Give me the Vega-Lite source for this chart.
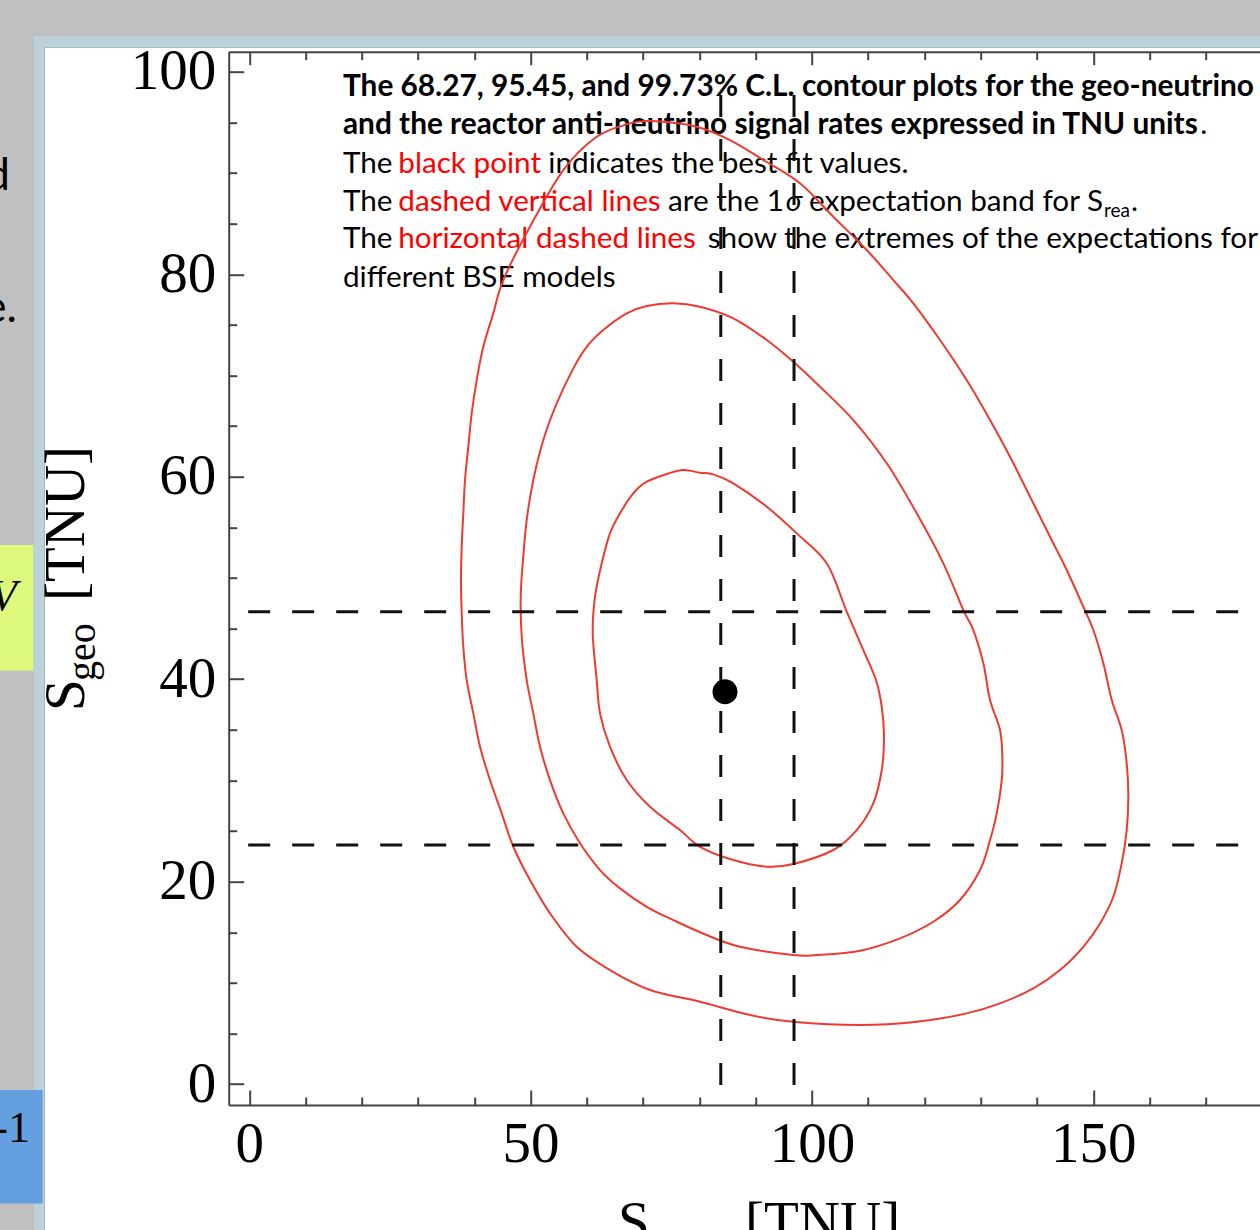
{
  "$schema": "https://vega.github.io/schema/vega-lite/v6.json",
  "width": 1031.3,
  "height": 1053.3,
  "autosize": {"type": "none"},
  "padding": {"left": 228.7, "top": 51.7, "right": 0, "bottom": 125},
  "background": "#c0c0c0",
  "config": {
    "view": {"stroke": null},
    "axis": {"grid": false, "domainColor": "#444444", "domainWidth": 2, "tickColor": "#444444", "tickWidth": 2, "labelFont": "Liberation Serif", "labelFontSize": 57, "labelColor": "#000000", "labelFlush": false, "labelOverlap": false}
  },
  "resolve": {"axis": {"x": "independent", "y": "independent"}},
  "datasets": {
    "frame": [{"x1": -38.27, "x2": 186.7, "y1": 103.53, "y2": -17.39}],
    "panel": [{"x1": -36.4, "x2": 186.7, "y1": 102.39, "y2": -17.39}],
    "greenbox": [{"x1": -45.2, "x2": -38.39, "y1": 53.25, "y2": 40.83}],
    "bluebox": [{"x1": -45.2, "x2": -36.72, "y1": -0.59, "y2": -11.79}],
    "frag_sans": [{"t": "d", "x": -42.53, "y": 88.31}, {"t": "e.", "x": -41.29, "y": 75.27}],
    "frag_italic": [{"t": "V", "x": -41.29, "y": 46.82}],
    "frag_serif": [{"t": "-1", "x": -38.98, "y": -5.73}],
    "ann_bold": [
      {"t": "The 68.27, 95.45, and 99.73% C.L. contour plots for the geo-neutrino", "x": 16.65, "y": 97.65},
      {"t": "and the reactor anti-neutrino signal rates expressed in TNU units", "x": 16.65, "y": 93.85}
    ],
    "ann_plain": [
      {"t": ".", "x": 169.0, "y": 93.85},
      {"t": "The", "x": 16.65, "y": 89.96},
      {"t": "indicates the best fit values.", "x": 53.15, "y": 89.96},
      {"t": "The", "x": 16.65, "y": 86.27},
      {"t": "are the 1", "x": 74.42, "y": 86.27},
      {"t": ".", "x": 156.72, "y": 86.27},
      {"t": "The", "x": 16.65, "y": 82.55},
      {"t": "show the extremes of the expectations for", "x": 81.48, "y": 82.55},
      {"t": "different BSE models", "x": 16.65, "y": 78.76}
    ],
    "ann_plain_end": [
      {"t": "expectation band for S", "x": 151.74, "y": 86.27}
    ],
    "ann_red": [
      {"t": "black point", "x": 26.48, "y": 89.96},
      {"t": "dashed vertical lines", "x": 26.48, "y": 86.27},
      {"t": "horizontal dashed lines", "x": 26.48, "y": 82.55}
    ],
    "ann_italic": [{"t": "σ", "x": 95.35, "y": 86.27}],
    "ann_sub": [{"t": "rea", "x": 151.92, "y": 85.68}],
    "ytitle_main": [{"t": "S", "x": -29.38, "y": 36.85}, {"t": "[TNU]", "x": -29.38, "y": 47.71}],
    "ytitle_sub": [{"t": "geo", "x": -27.43, "y": 39.81}],
    "xtitle_main": [{"t": "S", "x": 65.54, "y": -15.51}, {"t": "[TNU]", "x": 88.11, "y": -15.51}],
    "xtitle_sub": [{"t": "rea", "x": 70.87, "y": -16.99}],
    "contours": [
      {"cl": "68.27%", "i": 1, "x": 77.14, "y": 60.65},
      {"cl": "68.27%", "i": 2, "x": 80.11, "y": 60.39},
      {"cl": "68.27%", "i": 3, "x": 82.47, "y": 60.23},
      {"cl": "68.27%", "i": 4, "x": 86.03, "y": 59.34},
      {"cl": "68.27%", "i": 5, "x": 91.97, "y": 57.03},
      {"cl": "68.27%", "i": 6, "x": 97.3, "y": 54.4},
      {"cl": "68.27%", "i": 7, "x": 102.63, "y": 51.44},
      {"cl": "68.27%", "i": 8, "x": 106.19, "y": 46.66},
      {"cl": "68.27%", "i": 9, "x": 109.14, "y": 42.87},
      {"cl": "68.27%", "i": 10, "x": 111.39, "y": 39.91},
      {"cl": "68.27%", "i": 11, "x": 112.41, "y": 37.27},
      {"cl": "68.27%", "i": 12, "x": 112.81, "y": 34.31},
      {"cl": "68.27%", "i": 13, "x": 112.41, "y": 31.02},
      {"cl": "68.27%", "i": 14, "x": 110.91, "y": 27.73},
      {"cl": "68.27%", "i": 15, "x": 107.96, "y": 25.09},
      {"cl": "68.27%", "i": 16, "x": 103.8, "y": 23.12},
      {"cl": "68.27%", "i": 17, "x": 96.69, "y": 21.73},
      {"cl": "68.27%", "i": 18, "x": 91.97, "y": 21.47},
      {"cl": "68.27%", "i": 19, "x": 86.03, "y": 22.13},
      {"cl": "68.27%", "i": 20, "x": 80.11, "y": 23.44},
      {"cl": "68.27%", "i": 21, "x": 76.55, "y": 25.09},
      {"cl": "68.27%", "i": 22, "x": 71.22, "y": 27.39},
      {"cl": "68.27%", "i": 23, "x": 67.08, "y": 30.03},
      {"cl": "68.27%", "i": 24, "x": 64.11, "y": 33.32},
      {"cl": "68.27%", "i": 25, "x": 62.34, "y": 36.62},
      {"cl": "68.27%", "i": 26, "x": 61.75, "y": 39.91},
      {"cl": "68.27%", "i": 27, "x": 61.04, "y": 44.52},
      {"cl": "68.27%", "i": 28, "x": 61.45, "y": 48.14},
      {"cl": "68.27%", "i": 29, "x": 62.64, "y": 51.44},
      {"cl": "68.27%", "i": 30, "x": 64.11, "y": 54.4},
      {"cl": "68.27%", "i": 31, "x": 65.89, "y": 56.38},
      {"cl": "68.27%", "i": 32, "x": 68.25, "y": 58.35},
      {"cl": "68.27%", "i": 33, "x": 70.64, "y": 59.5},
      {"cl": "68.27%", "i": 34, "x": 74.19, "y": 60.26},
      {"cl": "95.45%", "i": 1, "x": 75.36, "y": 77.12},
      {"cl": "95.45%", "i": 2, "x": 80.11, "y": 76.79},
      {"cl": "95.45%", "i": 3, "x": 86.03, "y": 75.64},
      {"cl": "95.45%", "i": 4, "x": 91.97, "y": 73.5},
      {"cl": "95.45%", "i": 5, "x": 96.69, "y": 71.35},
      {"cl": "95.45%", "i": 6, "x": 101.44, "y": 68.88},
      {"cl": "95.45%", "i": 7, "x": 107.36, "y": 65.59},
      {"cl": "95.45%", "i": 8, "x": 113.3, "y": 61.32},
      {"cl": "95.45%", "i": 9, "x": 118.63, "y": 56.38},
      {"cl": "95.45%", "i": 10, "x": 123.36, "y": 51.44},
      {"cl": "95.45%", "i": 11, "x": 126.91, "y": 46.82},
      {"cl": "95.45%", "i": 12, "x": 128.69, "y": 44.85},
      {"cl": "95.45%", "i": 13, "x": 130.47, "y": 41.56},
      {"cl": "95.45%", "i": 14, "x": 131.66, "y": 37.93},
      {"cl": "95.45%", "i": 15, "x": 133.43, "y": 34.97},
      {"cl": "95.45%", "i": 16, "x": 133.84, "y": 32.33},
      {"cl": "95.45%", "i": 17, "x": 133.74, "y": 30.03},
      {"cl": "95.45%", "i": 18, "x": 132.85, "y": 26.74},
      {"cl": "95.45%", "i": 19, "x": 131.66, "y": 24.1},
      {"cl": "95.45%", "i": 20, "x": 129.88, "y": 21.14},
      {"cl": "95.45%", "i": 21, "x": 126.32, "y": 18.18},
      {"cl": "95.45%", "i": 22, "x": 121.58, "y": 16.03},
      {"cl": "95.45%", "i": 23, "x": 115.66, "y": 14.39},
      {"cl": "95.45%", "i": 24, "x": 108.55, "y": 13.17},
      {"cl": "95.45%", "i": 25, "x": 100.85, "y": 12.74},
      {"cl": "95.45%", "i": 26, "x": 96.69, "y": 12.74},
      {"cl": "95.45%", "i": 27, "x": 87.22, "y": 13.56},
      {"cl": "95.45%", "i": 28, "x": 81.3, "y": 14.72},
      {"cl": "95.45%", "i": 29, "x": 75.36, "y": 16.2},
      {"cl": "95.45%", "i": 30, "x": 70.64, "y": 17.51},
      {"cl": "95.45%", "i": 31, "x": 65.89, "y": 19.33},
      {"cl": "95.45%", "i": 32, "x": 62.34, "y": 21.14},
      {"cl": "95.45%", "i": 33, "x": 58.78, "y": 23.78},
      {"cl": "95.45%", "i": 34, "x": 55.81, "y": 26.74},
      {"cl": "95.45%", "i": 35, "x": 53.45, "y": 30.03},
      {"cl": "95.45%", "i": 36, "x": 51.67, "y": 33.32},
      {"cl": "95.45%", "i": 37, "x": 50.48, "y": 36.62},
      {"cl": "95.45%", "i": 38, "x": 49.31, "y": 39.91},
      {"cl": "95.45%", "i": 39, "x": 48.42, "y": 44.19},
      {"cl": "95.45%", "i": 40, "x": 48.24, "y": 48.14},
      {"cl": "95.45%", "i": 41, "x": 48.6, "y": 51.44},
      {"cl": "95.45%", "i": 42, "x": 49.31, "y": 55.72},
      {"cl": "95.45%", "i": 43, "x": 50.48, "y": 59.67},
      {"cl": "95.45%", "i": 44, "x": 52.26, "y": 63.62},
      {"cl": "95.45%", "i": 45, "x": 54.64, "y": 67.24},
      {"cl": "95.45%", "i": 46, "x": 57.59, "y": 70.7},
      {"cl": "95.45%", "i": 47, "x": 59.97, "y": 72.83},
      {"cl": "95.45%", "i": 48, "x": 62.92, "y": 74.48},
      {"cl": "95.45%", "i": 49, "x": 67.08, "y": 76.13},
      {"cl": "95.45%", "i": 50, "x": 70.64, "y": 76.85},
      {"cl": "99.73%", "i": 1, "x": 70.64, "y": 95.13},
      {"cl": "99.73%", "i": 2, "x": 73.59, "y": 95.06},
      {"cl": "99.73%", "i": 3, "x": 79.52, "y": 94.57},
      {"cl": "99.73%", "i": 4, "x": 85.44, "y": 93.25},
      {"cl": "99.73%", "i": 5, "x": 91.36, "y": 91.28},
      {"cl": "99.73%", "i": 6, "x": 97.88, "y": 88.98},
      {"cl": "99.73%", "i": 7, "x": 103.8, "y": 85.68},
      {"cl": "99.73%", "i": 8, "x": 109.74, "y": 82.39},
      {"cl": "99.73%", "i": 9, "x": 114.47, "y": 79.42},
      {"cl": "99.73%", "i": 10, "x": 118.02, "y": 77.12},
      {"cl": "99.73%", "i": 11, "x": 122.77, "y": 73.5},
      {"cl": "99.73%", "i": 12, "x": 127.51, "y": 69.54},
      {"cl": "99.73%", "i": 13, "x": 131.66, "y": 65.59},
      {"cl": "99.73%", "i": 14, "x": 135.21, "y": 61.97},
      {"cl": "99.73%", "i": 15, "x": 138.77, "y": 58.02},
      {"cl": "99.73%", "i": 16, "x": 142.32, "y": 54.07},
      {"cl": "99.73%", "i": 17, "x": 145.29, "y": 50.78},
      {"cl": "99.73%", "i": 18, "x": 148.24, "y": 47.15},
      {"cl": "99.73%", "i": 19, "x": 150.02, "y": 44.85},
      {"cl": "99.73%", "i": 20, "x": 151.8, "y": 41.56},
      {"cl": "99.73%", "i": 21, "x": 153.29, "y": 37.93},
      {"cl": "99.73%", "i": 22, "x": 155.06, "y": 34.97},
      {"cl": "99.73%", "i": 23, "x": 155.95, "y": 31.68},
      {"cl": "99.73%", "i": 24, "x": 156.24, "y": 28.38},
      {"cl": "99.73%", "i": 25, "x": 155.95, "y": 25.09},
      {"cl": "99.73%", "i": 26, "x": 155.06, "y": 21.8},
      {"cl": "99.73%", "i": 27, "x": 153.57, "y": 18.5},
      {"cl": "99.73%", "i": 28, "x": 151.21, "y": 15.87},
      {"cl": "99.73%", "i": 29, "x": 148.24, "y": 13.56},
      {"cl": "99.73%", "i": 30, "x": 144.1, "y": 11.26},
      {"cl": "99.73%", "i": 31, "x": 139.35, "y": 9.45},
      {"cl": "99.73%", "i": 32, "x": 133.43, "y": 7.97},
      {"cl": "99.73%", "i": 33, "x": 127.51, "y": 6.98},
      {"cl": "99.73%", "i": 34, "x": 118.63, "y": 6.15},
      {"cl": "99.73%", "i": 35, "x": 108.55, "y": 5.83},
      {"cl": "99.73%", "i": 36, "x": 96.69, "y": 6.15},
      {"cl": "99.73%", "i": 37, "x": 89.0, "y": 6.82},
      {"cl": "99.73%", "i": 38, "x": 80.11, "y": 8.13},
      {"cl": "99.73%", "i": 39, "x": 71.22, "y": 9.29},
      {"cl": "99.73%", "i": 40, "x": 64.11, "y": 11.26},
      {"cl": "99.73%", "i": 41, "x": 58.19, "y": 13.56},
      {"cl": "99.73%", "i": 42, "x": 53.45, "y": 16.86},
      {"cl": "99.73%", "i": 43, "x": 49.89, "y": 20.15},
      {"cl": "99.73%", "i": 44, "x": 46.93, "y": 23.44},
      {"cl": "99.73%", "i": 45, "x": 44.86, "y": 26.74},
      {"cl": "99.73%", "i": 46, "x": 42.78, "y": 30.03},
      {"cl": "99.73%", "i": 47, "x": 41.01, "y": 33.32},
      {"cl": "99.73%", "i": 48, "x": 39.82, "y": 36.62},
      {"cl": "99.73%", "i": 49, "x": 38.64, "y": 39.91},
      {"cl": "99.73%", "i": 50, "x": 38.04, "y": 43.2},
      {"cl": "99.73%", "i": 51, "x": 37.75, "y": 46.5},
      {"cl": "99.73%", "i": 52, "x": 37.63, "y": 49.79},
      {"cl": "99.73%", "i": 53, "x": 37.75, "y": 53.08},
      {"cl": "99.73%", "i": 54, "x": 38.04, "y": 56.38},
      {"cl": "99.73%", "i": 55, "x": 38.34, "y": 59.67},
      {"cl": "99.73%", "i": 56, "x": 38.93, "y": 62.96},
      {"cl": "99.73%", "i": 57, "x": 39.53, "y": 66.25},
      {"cl": "99.73%", "i": 58, "x": 40.42, "y": 69.54},
      {"cl": "99.73%", "i": 59, "x": 41.59, "y": 72.83},
      {"cl": "99.73%", "i": 60, "x": 43.37, "y": 76.13},
      {"cl": "99.73%", "i": 61, "x": 45.15, "y": 79.42},
      {"cl": "99.73%", "i": 62, "x": 49.89, "y": 84.69},
      {"cl": "99.73%", "i": 63, "x": 55.81, "y": 90.29},
      {"cl": "99.73%", "i": 64, "x": 61.75, "y": 93.58},
      {"cl": "99.73%", "i": 65, "x": 67.67, "y": 94.9}
    ],
    "vlines": [
      {"k": "low", "x": 83.8, "y": -0.1},
      {"k": "low", "x": 83.8, "y": 97.9},
      {"k": "high", "x": 96.82, "y": -0.1},
      {"k": "high", "x": 96.82, "y": 97.9}
    ],
    "hlines": [
      {"k": "upper", "x": -0.2, "y": 46.66},
      {"k": "upper", "x": 180, "y": 46.66},
      {"k": "lower", "x": -0.2, "y": 23.61},
      {"k": "lower", "x": 180, "y": 23.61}
    ],
    "bestfit": [{"x": 84.55, "y": 38.75}]
  },
  "layer": [
    {
      "data": {"name": "frame"},
      "mark": {"type": "rect", "fill": "#bcd2da"},
      "encoding": {
        "x": {"field": "x1", "type": "quantitative", "scale": {"domain": [-3.66, 179.64], "nice": false, "zero": false}, "axis": null},
        "x2": {"field": "x2"},
        "y": {"field": "y1", "type": "quantitative", "scale": {"domain": [-2.07, 101.98], "nice": false, "zero": false}, "axis": null},
        "y2": {"field": "y2"}
      }
    },
    {
      "data": {"name": "panel"},
      "mark": {"type": "rect", "fill": "#ffffff", "stroke": "#a8b8bd", "strokeWidth": 1},
      "encoding": {
        "x": {"field": "x1", "type": "quantitative", "scale": {"domain": [-3.66, 179.64], "nice": false, "zero": false}, "axis": null},
        "x2": {"field": "x2"},
        "y": {"field": "y1", "type": "quantitative", "scale": {"domain": [-2.07, 101.98], "nice": false, "zero": false}, "axis": null},
        "y2": {"field": "y2"}
      }
    },
    {
      "data": {"name": "greenbox"},
      "mark": {"type": "rect", "fill": "#dcf97b"},
      "encoding": {
        "x": {"field": "x1", "type": "quantitative", "scale": {"domain": [-3.66, 179.64], "nice": false, "zero": false}, "axis": null},
        "x2": {"field": "x2"},
        "y": {"field": "y1", "type": "quantitative", "scale": {"domain": [-2.07, 101.98], "nice": false, "zero": false}, "axis": null},
        "y2": {"field": "y2"}
      }
    },
    {
      "data": {"name": "bluebox"},
      "mark": {"type": "rect", "fill": "#64a0e0"},
      "encoding": {
        "x": {"field": "x1", "type": "quantitative", "scale": {"domain": [-3.66, 179.64], "nice": false, "zero": false}, "axis": null},
        "x2": {"field": "x2"},
        "y": {"field": "y1", "type": "quantitative", "scale": {"domain": [-2.07, 101.98], "nice": false, "zero": false}, "axis": null},
        "y2": {"field": "y2"}
      }
    },
    {
      "data": {"name": "frag_sans"},
      "mark": {"type": "text", "font": "Lato", "fontSize": 44, "align": "right", "baseline": "alphabetic", "fill": "#000000"},
      "encoding": {
        "x": {"field": "x", "type": "quantitative", "scale": {"domain": [-3.66, 179.64], "nice": false, "zero": false}, "axis": null},
        "y": {"field": "y", "type": "quantitative", "scale": {"domain": [-2.07, 101.98], "nice": false, "zero": false}, "axis": null},
        "text": {"field": "t"}
      }
    },
    {
      "data": {"name": "frag_italic"},
      "mark": {"type": "text", "font": "Liberation Serif", "fontStyle": "italic", "fontSize": 44, "align": "right", "baseline": "alphabetic", "fill": "#000000"},
      "encoding": {
        "x": {"field": "x", "type": "quantitative", "scale": {"domain": [-3.66, 179.64], "nice": false, "zero": false}, "axis": null},
        "y": {"field": "y", "type": "quantitative", "scale": {"domain": [-2.07, 101.98], "nice": false, "zero": false}, "axis": null},
        "text": {"field": "t"}
      }
    },
    {
      "data": {"name": "frag_serif"},
      "mark": {"type": "text", "font": "Liberation Serif", "fontSize": 44, "align": "right", "baseline": "alphabetic", "fill": "#000000"},
      "encoding": {
        "x": {"field": "x", "type": "quantitative", "scale": {"domain": [-3.66, 179.64], "nice": false, "zero": false}, "axis": null},
        "y": {"field": "y", "type": "quantitative", "scale": {"domain": [-2.07, 101.98], "nice": false, "zero": false}, "axis": null},
        "text": {"field": "t"}
      }
    },
    {
      "data": {"name": "ann_bold"},
      "mark": {"type": "text", "font": "Lato", "fontWeight": "bold", "fontSize": 29.8, "align": "left", "baseline": "alphabetic", "fill": "#000000"},
      "encoding": {
        "x": {"field": "x", "type": "quantitative", "scale": {"domain": [-3.66, 179.64], "nice": false, "zero": false},
          "axis": {"orient": "top", "zindex": 2, "values": [10, 20, 30, 40, 60, 70, 80, 90, 110, 120, 130, 140, 160, 170], "tickSize": -8, "labels": false, "domain": false, "title": null}},
        "y": {"field": "y", "type": "quantitative", "scale": {"domain": [-2.07, 101.98], "nice": false, "zero": false}, "axis": null},
        "text": {"field": "t"}
      }
    },
    {
      "data": {"name": "ann_plain"},
      "mark": {"type": "text", "font": "Lato", "fontSize": 29.7, "align": "left", "baseline": "alphabetic", "fill": "#000000"},
      "encoding": {
        "x": {"field": "x", "type": "quantitative", "scale": {"domain": [-3.66, 179.64], "nice": false, "zero": false}, "axis": null},
        "y": {"field": "y", "type": "quantitative", "scale": {"domain": [-2.07, 101.98], "nice": false, "zero": false}, "axis": null},
        "text": {"field": "t"}
      }
    },
    {
      "data": {"name": "ann_plain_end"},
      "mark": {"type": "text", "font": "Lato", "fontSize": 29.7, "align": "right", "baseline": "alphabetic", "fill": "#000000"},
      "encoding": {
        "x": {"field": "x", "type": "quantitative", "scale": {"domain": [-3.66, 179.64], "nice": false, "zero": false}, "axis": null},
        "y": {"field": "y", "type": "quantitative", "scale": {"domain": [-2.07, 101.98], "nice": false, "zero": false}, "axis": null},
        "text": {"field": "t"}
      }
    },
    {
      "data": {"name": "ann_red"},
      "mark": {"type": "text", "font": "Lato", "fontSize": 29.7, "align": "left", "baseline": "alphabetic", "fill": "#ff0000"},
      "encoding": {
        "x": {"field": "x", "type": "quantitative", "scale": {"domain": [-3.66, 179.64], "nice": false, "zero": false}, "axis": null},
        "y": {"field": "y", "type": "quantitative", "scale": {"domain": [-2.07, 101.98], "nice": false, "zero": false}, "axis": null},
        "text": {"field": "t"}
      }
    },
    {
      "data": {"name": "ann_italic"},
      "mark": {"type": "text", "font": "Lato", "fontStyle": "italic", "fontSize": 29.7, "align": "left", "baseline": "alphabetic", "fill": "#000000"},
      "encoding": {
        "x": {"field": "x", "type": "quantitative", "scale": {"domain": [-3.66, 179.64], "nice": false, "zero": false}, "axis": null},
        "y": {"field": "y", "type": "quantitative", "scale": {"domain": [-2.07, 101.98], "nice": false, "zero": false}, "axis": null},
        "text": {"field": "t"}
      }
    },
    {
      "data": {"name": "ann_sub"},
      "mark": {"type": "text", "font": "Lato", "fontSize": 19, "align": "left", "baseline": "alphabetic", "fill": "#000000"},
      "encoding": {
        "x": {"field": "x", "type": "quantitative", "scale": {"domain": [-3.66, 179.64], "nice": false, "zero": false}, "axis": null},
        "y": {"field": "y", "type": "quantitative", "scale": {"domain": [-2.07, 101.98], "nice": false, "zero": false}, "axis": null},
        "text": {"field": "t"}
      }
    },
    {
      "data": {"name": "ytitle_main"},
      "mark": {"type": "text", "font": "Liberation Serif", "fontSize": 57, "angle": 270, "align": "left", "baseline": "alphabetic", "fill": "#000000"},
      "encoding": {
        "x": {"field": "x", "type": "quantitative", "scale": {"domain": [-3.66, 179.64], "nice": false, "zero": false}, "axis": null},
        "y": {"field": "y", "type": "quantitative", "scale": {"domain": [-2.07, 101.98], "nice": false, "zero": false}, "axis": null},
        "text": {"field": "t"}
      }
    },
    {
      "data": {"name": "ytitle_sub"},
      "mark": {"type": "text", "font": "Liberation Serif", "fontSize": 40, "angle": 270, "align": "left", "baseline": "alphabetic", "fill": "#000000"},
      "encoding": {
        "x": {"field": "x", "type": "quantitative", "scale": {"domain": [-3.66, 179.64], "nice": false, "zero": false}, "axis": null},
        "y": {"field": "y", "type": "quantitative", "scale": {"domain": [-2.07, 101.98], "nice": false, "zero": false}, "axis": null},
        "text": {"field": "t"}
      }
    },
    {
      "data": {"name": "xtitle_main"},
      "mark": {"type": "text", "font": "Liberation Serif", "fontSize": 57, "align": "left", "baseline": "alphabetic", "fill": "#000000"},
      "encoding": {
        "x": {"field": "x", "type": "quantitative", "scale": {"domain": [-3.66, 179.64], "nice": false, "zero": false}, "axis": null},
        "y": {"field": "y", "type": "quantitative", "scale": {"domain": [-2.07, 101.98], "nice": false, "zero": false}, "axis": null},
        "text": {"field": "t"}
      }
    },
    {
      "data": {"name": "xtitle_sub"},
      "mark": {"type": "text", "font": "Liberation Serif", "fontSize": 40, "align": "left", "baseline": "alphabetic", "fill": "#000000"},
      "encoding": {
        "x": {"field": "x", "type": "quantitative", "scale": {"domain": [-3.66, 179.64], "nice": false, "zero": false}, "axis": null},
        "y": {"field": "y", "type": "quantitative", "scale": {"domain": [-2.07, 101.98], "nice": false, "zero": false}, "axis": null},
        "text": {"field": "t"}
      }
    },
    {
      "data": {"name": "contours"},
      "mark": {"type": "line", "stroke": "#ee3a31", "strokeWidth": 2, "interpolate": "cardinal-closed"},
      "encoding": {
        "x": {"field": "x", "type": "quantitative", "scale": {"domain": [-3.66, 179.64], "nice": false, "zero": false},
          "axis": {"orient": "bottom", "zindex": 2, "values": [0, 50, 100, 150], "tickSize": -15, "labels": false, "domain": true, "title": null}},
        "y": {"field": "y", "type": "quantitative", "scale": {"domain": [-2.07, 101.98], "nice": false, "zero": false},
          "axis": {"orient": "left", "zindex": 2, "values": [0, 20, 40, 60, 80, 100], "tickSize": -15, "labels": false, "domain": true, "title": null}},
        "detail": {"field": "cl"},
        "order": {"field": "i"}
      }
    },
    {
      "data": {"name": "vlines"},
      "mark": {"type": "line", "stroke": "#111111", "strokeWidth": 3, "strokeDash": [22, 22]},
      "encoding": {
        "x": {"field": "x", "type": "quantitative", "scale": {"domain": [-3.66, 179.64], "nice": false, "zero": false},
          "axis": {"orient": "bottom", "zindex": 2, "values": [10, 20, 30, 40, 60, 70, 80, 90, 110, 120, 130, 140, 160, 170], "tickSize": -8, "labels": false, "domain": false, "title": null}},
        "y": {"field": "y", "type": "quantitative", "scale": {"domain": [-2.07, 101.98], "nice": false, "zero": false},
          "axis": {"orient": "left", "zindex": 2, "values": [5, 10, 15, 25, 30, 35, 45, 50, 55, 65, 70, 75, 85, 90, 95], "tickSize": -8, "labels": false, "domain": false, "title": null}},
        "detail": {"field": "k"},
        "order": {"field": "y"}
      }
    },
    {
      "data": {"name": "hlines"},
      "mark": {"type": "line", "stroke": "#111111", "strokeWidth": 3, "strokeDash": [22, 22]},
      "encoding": {
        "x": {"field": "x", "type": "quantitative", "scale": {"domain": [-3.66, 179.64], "nice": false, "zero": false},
          "axis": {"orient": "bottom", "zindex": 2, "values": [0, 50, 100, 150], "ticks": false, "domain": false, "labelPadding": 56, "labelBaseline": "alphabetic", "format": "d", "title": null}},
        "y": {"field": "y", "type": "quantitative", "scale": {"domain": [-2.07, 101.98], "nice": false, "zero": false},
          "axis": {"orient": "left", "zindex": 2, "values": [0, 20, 40, 60, 80, 100], "ticks": false, "domain": false, "labelPadding": 13, "labelBaseline": "middle", "format": "d", "title": null}},
        "detail": {"field": "k"},
        "order": {"field": "x"}
      }
    },
    {
      "data": {"name": "bestfit"},
      "mark": {"type": "point", "shape": "circle", "filled": true, "fill": "#000000", "opacity": 1, "size": 625},
      "encoding": {
        "x": {"field": "x", "type": "quantitative", "scale": {"domain": [-3.66, 179.64], "nice": false, "zero": false},
          "axis": {"orient": "top", "zindex": 2, "values": [0, 50, 100, 150], "tickSize": -13, "labels": false, "domain": true, "title": null}},
        "y": {"field": "y", "type": "quantitative", "scale": {"domain": [-2.07, 101.98], "nice": false, "zero": false}, "axis": null}
      }
    }
  ]
}
